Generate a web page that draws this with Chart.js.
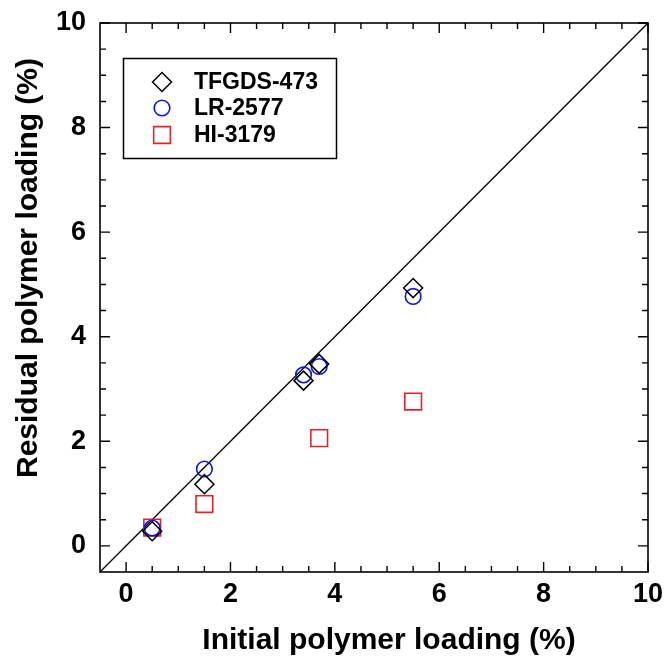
<!DOCTYPE html>
<html>
<head>
<meta charset="utf-8">
<title>Residual vs initial polymer loading</title>
<script src="https://cdn.jsdelivr.net/npm/chart.js"></script>
<style>
  html, body { margin: 0; padding: 0; background: #fff; }
  #wrap { position: relative; width: 666px; height: 656px; }
</style>
</head>
<body>
<div id="wrap"><canvas id="chart"></canvas></div>
<script>
// Values
const seriesNames = ['TFGDS-473', 'LR-2577', 'HI-3179'];
const tfgdsX = [0.5, 1.5, 3.4, 3.7, 5.5];
const tfgdsY = [0.28, 1.18, 3.16, 3.48, 4.93];
const lrX = [0.5, 1.5, 3.4, 3.7, 5.5];
const lrY = [0.34, 1.47, 3.27, 3.43, 4.77];
const hiX = [0.5, 1.5, 3.7, 5.5];
const hiY = [0.35, 0.80, 2.06, 2.76];
const parityX = [-0.5, 10];   // 1:1 line
const axisTicks = [0, 2, 4, 6, 8, 10];
const axisMin = -0.5, axisMax = 10;
const xTitle = 'Initial polymer loading (%)';
const yTitle = 'Residual polymer loading (%)';

const FONT = "'Liberation Sans', Arial, Helvetica, sans-serif";
const toPoints = (xs, ys) => xs.map((x, i) => ({ x: x, y: ys[i] }));

// frame with inward major/minor ticks on all four sides
const framePlugin = {
  id: 'frame',
  afterDraw(chart) {
    const { ctx, chartArea: a, scales: { x, y } } = chart;
    ctx.save();
    ctx.strokeStyle = '#000';
    ctx.lineWidth = 1.6;
    ctx.strokeRect(a.left, a.top, a.right - a.left, a.bottom - a.top);
    ctx.lineWidth = 1.4;
    ctx.beginPath();
    for (let v = 0; v <= axisMax + 1e-9; v += 0.5) {
      const len = (v % 2 === 0) ? 10 : 6;
      const px = x.getPixelForValue(v);
      const py = y.getPixelForValue(v);
      ctx.moveTo(px, a.bottom); ctx.lineTo(px, a.bottom - len);
      ctx.moveTo(px, a.top); ctx.lineTo(px, a.top + len);
      ctx.moveTo(a.left, py); ctx.lineTo(a.left + len, py);
      ctx.moveTo(a.right, py); ctx.lineTo(a.right - len, py);
    }
    ctx.stroke();
    ctx.restore();
  }
};

// axis titles sit a little off the axis centres in the original
const titlesPlugin = {
  id: 'titles',
  afterDraw(chart) {
    const { ctx } = chart;
    ctx.save();
    ctx.fillStyle = '#000';
    ctx.font = 'bold 30px ' + FONT;
    ctx.textAlign = 'center';
    ctx.textBaseline = 'alphabetic';
    ctx.fillText(xTitle, 389, 649);
    ctx.translate(37, 268);
    ctx.rotate(-Math.PI / 2);
    ctx.fillText(yTitle, 0, 0);
    ctx.restore();
  }
};

// boxed legend inside the plot, upper left
const legendBox = {
  id: 'legendBox',
  afterDraw(chart) {
    const { ctx } = chart;
    ctx.save();
    ctx.strokeStyle = '#000';
    ctx.lineWidth = 1.5;
    ctx.strokeRect(123.5, 58.5, 213, 100);
    ctx.font = 'bold 23px ' + FONT;
    ctx.textBaseline = 'middle';
    ctx.textAlign = 'left';
    const rows = [82, 108, 135];
    chart.data.datasets.filter(d => d.label).forEach((d, i) => {
      ctx.strokeStyle = d.borderColor;
      ctx.fillStyle = 'rgba(0,0,0,0)';
      ctx.lineWidth = d.borderWidth;
      Chart.helpers.drawPoint(ctx, { pointStyle: d.pointStyle, radius: d.pointRadius, rotation: 0, borderWidth: d.borderWidth }, 162, rows[i]);
      ctx.fillStyle = '#000';
      ctx.fillText(d.label, 194, rows[i] + 1);
    });
    ctx.restore();
  }
};

new Chart(document.getElementById('chart'), {
  type: 'scatter',
  data: {
    datasets: [
      { label: seriesNames[0], data: toPoints(tfgdsX, tfgdsY), pointStyle: 'rectRot', pointRadius: 9.5, borderColor: '#000', backgroundColor: 'rgba(0,0,0,0)', borderWidth: 1.5 },
      { label: seriesNames[1], data: toPoints(lrX, lrY), pointStyle: 'circle', pointRadius: 7.8, borderColor: '#1010f0', backgroundColor: 'rgba(0,0,0,0)', borderWidth: 1.6 },
      { label: seriesNames[2], data: toPoints(hiX, hiY), pointStyle: 'rect', pointRadius: 11.8, borderColor: '#e2242a', backgroundColor: 'rgba(0,0,0,0)', borderWidth: 1.6 },
      { label: '', type: 'line', data: toPoints(parityX, parityX), borderColor: '#000', borderWidth: 1.3, pointRadius: 0, fill: false }
    ]
  },
  options: {
    responsive: true,
    maintainAspectRatio: false,
    animation: false,
    events: [],
    layout: { padding: { top: 23, right: 18, left: 0, bottom: 0 } },
    plugins: { legend: { display: false }, tooltip: { enabled: false } },
    scales: {
      x: {
        type: 'linear', min: axisMin, max: axisMax,
        afterBuildTicks: s => { s.ticks = axisTicks.map(v => ({ value: v })); },
        afterFit: s => { s.height = 84; s.paddingLeft = 0; s.paddingRight = 0; },
        grid: { display: false, drawTicks: false },
        border: { display: false },
        ticks: { color: '#000', padding: 6, font: { family: FONT, size: 27, weight: 'bold' } }
      },
      y: {
        type: 'linear', min: axisMin, max: axisMax,
        afterBuildTicks: s => { s.ticks = axisTicks.map(v => ({ value: v })); },
        afterFit: s => { s.width = 100; s.paddingTop = 0; s.paddingBottom = 0; },
        grid: { display: false, drawTicks: false },
        border: { display: false },
        ticks: { color: '#000', padding: 14, font: { family: FONT, size: 27, weight: 'bold' } }
      }
    }
  },
  plugins: [framePlugin, titlesPlugin, legendBox]
});
</script>
</body>
</html>
